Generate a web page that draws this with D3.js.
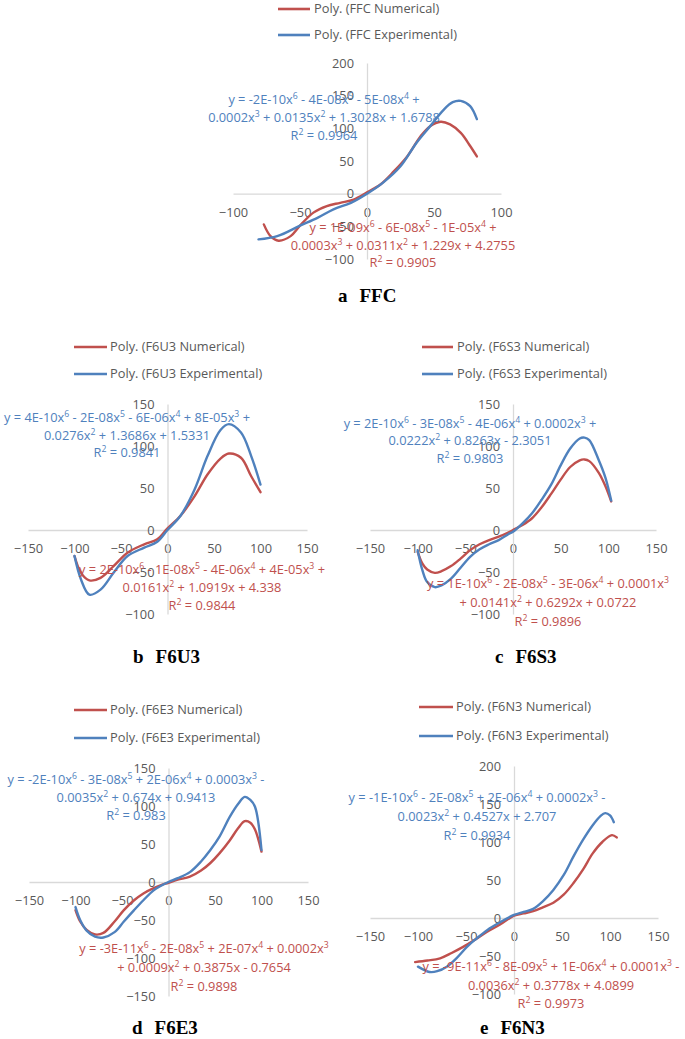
<!DOCTYPE html>
<html>
<head>
<meta charset="utf-8">
<script src="https://cdn.jsdelivr.net/npm/d3@7.9.0/dist/d3.min.js"></script>
<style>
  body { margin: 0; background: #fff; }
  svg { display: block; }
  .tick text { font-family: "Open Sans", sans-serif; font-size: 12.8px; fill: #595959; }
  .legend text { font-family: "Open Sans", sans-serif; font-size: 12.8px; fill: #595959; }
  .eq { font-family: "Open Sans", sans-serif; font-size: 12.8px; }
  .caption { font-family: "Liberation Serif", serif; font-weight: bold; font-size: 19px; fill: #000; }
</style>
</head>
<body>
<svg id="chart" width="685" height="1039"></svg>
<script>
// tick labels
const ticks100 = [-100, -50, 0, 50, 100];
const ticks150 = [-150, -100, -50, 0, 50, 100, 150];
const ticksY100to200 = [-100, -50, 0, 50, 100, 150, 200];
const ticksY100to150 = [-100, -50, 0, 50, 100, 150];
const ticksY150to150 = [-150, -100, -50, 0, 50, 100, 150];

// a  FFC
const ffcNumX = [-77, -72, -66, -57, -50, -40, -30, -20, -10, 0, 10, 20, 30, 40, 47, 55, 62, 70, 77, 82];
const ffcNumY = [-47, -65, -72, -65, -49, -29, -19, -14, -9, 2, 14, 34, 57, 88, 103, 110, 106, 93, 73, 57];
const ffcExpX = [-81, -67, -50, -37, -25, -12, 0, 12, 25, 37, 47, 57, 64, 70, 77, 82];
const ffcExpY = [-70, -65, -49, -37, -24, -14, 0, 17, 42, 78, 103, 128, 140, 142, 134, 114];

// b  F6U3
const f6u3X = [-100, -93, -84, -72, -58, -43, -25, -11, 0, 14, 29, 43, 57, 66, 79, 90, 100];
const f6u3NumY = [-31, -51, -60, -57, -43, -27, -17, -11, 2, 17, 40, 66, 85, 91, 86, 64, 45];
const f6u3ExpY = [-31, -59, -77, -71, -51, -31, -21, -14, 0, 17, 48, 88, 119, 126, 116, 88, 54];

// c  F6S3
const f6s3X = [-100, -95, -90, -82, -75, -65, -55, -45, -35, -25, -15, -5, 0, 10, 20, 30, 40, 50, 60, 70, 75, 80, 90, 97, 103];
const f6s3NumY = [-26, -40, -47, -51, -49, -43, -34, -24, -17, -12, -8, -3, 0, 6, 14, 27, 43, 60, 75, 83, 84, 82, 68, 52, 34];
const f6s3ExpY = [-24, -48, -62, -68, -66, -58, -45, -32, -23, -17, -12, -5, -2, 8, 20, 36, 54, 77, 97, 109, 110, 107, 83, 62, 35];

// d  F6E3
const f6e3X = [-100, -95, -88, -79, -70, -58, -48, -37, -27, -16, -8, 0, 10, 23, 35, 45, 55, 66, 75, 82, 88, 93, 100];
const f6e3NumY = [-37, -52, -63, -69, -67, -52, -37, -24, -15, -8, -4, -1, 3, 7, 15, 25, 38, 55, 71, 80, 78, 69, 40];
const f6e3ExpY = [-33, -50, -64, -72, -73, -66, -52, -37, -24, -11, -5, 0, 5, 13, 27, 42, 60, 86, 103, 112, 108, 99, 42];

// e  F6N3
const f6n3NumX = [-103, -90, -77, -65, -53, -40, -28, -15, 0, 10, 20, 30, 41, 52, 62, 72, 82, 92, 102, 107];
const f6n3NumY = [-58, -56, -53, -46, -38, -28, -18, -9, 3, 6, 9, 14, 20, 31, 46, 64, 85, 100, 109, 106];
const f6n3ExpX = [-100, -88, -80, -70, -60, -49, -40, -28, -15, 0, 10, 20, 30, 41, 52, 62, 72, 82, 90, 95, 100, 104];
const f6n3ExpY = [-64, -71, -70, -64, -53, -38, -28, -16, -6, 4, 8, 12, 22, 37, 57, 81, 103, 122, 134, 138, 135, 126];

// trendline equations
const ffcExpEq = ["y = -2E-10x^6 - 4E-08x^5 - 5E-08x^4 +", "0.0002x^3 + 0.0135x^2 + 1.3028x + 1.6788", "R^2 = 0.9964"];
const ffcNumEq = ["y = 1E-09x^6 - 6E-08x^5 - 1E-05x^4 +", "0.0003x^3 + 0.0311x^2 + 1.229x + 4.2755", "R^2 = 0.9905"];
const f6u3ExpEq = ["y = 4E-10x^6 - 2E-08x^5 - 6E-06x^4 + 8E-05x^3 +", "0.0276x^2 + 1.3686x + 1.5331", "R^2 = 0.9841"];
const f6u3NumEq = ["y = 2E-10x^6 - 1E-08x^5 - 4E-06x^4 + 4E-05x^3 +", "0.0161x^2 + 1.0919x + 4.338", "R^2 = 0.9844"];
const f6s3ExpEq = ["y = 2E-10x^6 - 3E-08x^5 - 4E-06x^4 + 0.0002x^3 +", "0.0222x^2 + 0.8263x - 2.3051", "R^2 = 0.9803"];
const f6s3NumEq = ["y = 1E-10x^6 - 2E-08x^5 - 3E-06x^4 + 0.0001x^3", "+ 0.0141x^2 + 0.6292x + 0.0722", "R^2 = 0.9896"];
const f6e3ExpEq = ["y = -2E-10x^6 - 3E-08x^5 + 2E-06x^4 + 0.0003x^3 -", "0.0035x^2 + 0.674x + 0.9413", "R^2 = 0.983"];
const f6e3NumEq = ["y = -3E-11x^6 - 2E-08x^5 + 2E-07x^4 + 0.0002x^3", "+ 0.0009x^2 + 0.3875x - 0.7654", "R^2 = 0.9898"];
const f6n3ExpEq = ["y = -1E-10x^6 - 2E-08x^5 + 2E-06x^4 + 0.0002x^3 -", "0.0023x^2 + 0.4527x + 2.707", "R^2 = 0.9934"];
const f6n3NumEq = ["y = -9E-11x^6 - 8E-09x^5 + 1E-06x^4 + 0.0001x^3 -", "0.0036x^2 + 0.3778x + 4.0899", "R^2 = 0.9973"];

const red = '#C0504D';
const blue = '#4F81BD';
const axisColor = '#D9D9D9';

const svg = d3.select('#chart');

// panel layout
const panels = [
  {
    name: 'FFC', letter: 'a',
    xDomain: [-100, 100], xRange: [233, 501], xTicks: ticks100,
    yDomain: [-100, 200], yRange: [259, 63], yTicks: ticksY100to200,
    num: { x: ffcNumX, y: ffcNumY, eq: ffcNumEq, cx: 403, ys: [227, 245, 262] },
    exp: { x: ffcExpX, y: ffcExpY, eq: ffcExpEq, cx: 324, ys: [99, 117, 135] },
    legend: { x0: 278, x1: 310, tx: 314, y: [9, 35] },
    caption: { x: 338, y: 295 }
  },
  {
    name: 'F6U3', letter: 'b',
    xDomain: [-150, 150], xRange: [28, 307], xTicks: ticks150,
    yDomain: [-100, 150], yRange: [614, 404], yTicks: ticksY100to150,
    num: { x: f6u3X, y: f6u3NumY, eq: f6u3NumEq, cx: 202, ys: [569, 587, 605] },
    exp: { x: f6u3X, y: f6u3ExpY, eq: f6u3ExpEq, cx: 127, ys: [417, 435, 452] },
    legend: { x0: 74, x1: 107, tx: 110, y: [347, 374] },
    caption: { x: 133, y: 656 }
  },
  {
    name: 'F6S3', letter: 'c',
    xDomain: [-150, 150], xRange: [370, 656], xTicks: ticks150,
    yDomain: [-100, 150], yRange: [614, 404], yTicks: ticksY100to150,
    num: { x: f6s3X, y: f6s3NumY, eq: f6s3NumEq, cx: 548, ys: [583, 602, 621] },
    exp: { x: f6s3X, y: f6s3ExpY, eq: f6s3ExpEq, cx: 470, ys: [423, 440, 458] },
    legend: { x0: 422, x1: 453, tx: 457, y: [347, 374] },
    caption: { x: 495, y: 656 }
  },
  {
    name: 'F6E3', letter: 'd',
    xDomain: [-150, 150], xRange: [29, 308], xTicks: ticks150,
    yDomain: [-150, 150], yRange: [996, 768], yTicks: ticksY150to150,
    num: { x: f6e3X, y: f6e3NumY, eq: f6e3NumEq, cx: 204, ys: [948, 967, 986] },
    exp: { x: f6e3X, y: f6e3ExpY, eq: f6e3ExpEq, cx: 136, ys: [779, 797, 815] },
    legend: { x0: 74, x1: 107, tx: 110, y: [710, 738] },
    caption: { x: 132, y: 1027 }
  },
  {
    name: 'F6N3', letter: 'e',
    xDomain: [-150, 150], xRange: [370, 658], xTicks: ticks150,
    yDomain: [-100, 200], yRange: [994, 766], yTicks: ticksY100to200,
    num: { x: f6n3NumX, y: f6n3NumY, eq: f6n3NumEq, cx: 551, ys: [966, 985, 1003] },
    exp: { x: f6n3ExpX, y: f6n3ExpY, eq: f6n3ExpEq, cx: 477, ys: [797, 816, 835] },
    legend: { x0: 419, x1: 453, tx: 456, y: [707, 736] },
    caption: { x: 480, y: 1027 }
  }
];

// writes "x^6" style strings as tspans with raised exponents
function richText(sel, str) {
  let raised = false;
  str.split(/(\^\d)/).filter(s => s.length).forEach(part => {
    if (part[0] === '^') {
      sel.append('tspan').attr('dy', -5).attr('font-size', '0.68em').text(part.slice(1));
      raised = true;
    } else {
      sel.append('tspan').attr('dy', raised ? 5 : null).text(part);
      raised = false;
    }
  });
}

function drawPanel(p) {
  const x = d3.scaleLinear().domain(p.xDomain).range(p.xRange);
  const y = d3.scaleLinear().domain(p.yDomain).range(p.yRange);
  const g = svg.append('g');

  // horizontal axis through y = 0
  const xAxis = g.append('g')
    .attr('transform', `translate(0,${y(0)})`)
    .call(d3.axisBottom(x).tickValues(p.xTicks).tickSize(0).tickPadding(14).tickFormat(d3.format('d')));
  xAxis.select('.domain').attr('stroke', axisColor).attr('stroke-width', 1.3);

  // vertical axis through x = 0
  const yAxis = g.append('g')
    .attr('transform', `translate(${x(0)},0)`)
    .call(d3.axisLeft(y).tickValues(p.yTicks).tickSize(0).tickPadding(13).tickFormat(d3.format('d')));
  yAxis.select('.domain').attr('stroke', axisColor).attr('stroke-width', 1.3);

  const line = d3.line()
    .x(d => x(d[0]))
    .y(d => y(d[1]))
    .curve(d3.curveCatmullRom.alpha(0.5));

  [[p.num, red], [p.exp, blue]].forEach(([s, color]) => {
    g.append('path')
      .datum(d3.zip(s.x, s.y))
      .attr('d', line)
      .attr('fill', 'none')
      .attr('stroke', color)
      .attr('stroke-width', 2.4)
      .attr('stroke-linecap', 'round');
  });

  // equation labels
  [[p.exp, blue], [p.num, red]].forEach(([s, color]) => {
    s.eq.forEach((txt, i) => {
      const t = g.append('text')
        .attr('class', 'eq')
        .attr('x', s.cx)
        .attr('y', s.ys[i])
        .attr('dy', '0.36em')
        .attr('text-anchor', 'middle')
        .attr('fill', color);
      richText(t, txt);
    });
  });

  // legend
  const legend = g.append('g').attr('class', 'legend');
  [['Numerical', red], ['Experimental', blue]].forEach(([label, color], i) => {
    legend.append('line')
      .attr('x1', p.legend.x0).attr('x2', p.legend.x1)
      .attr('y1', p.legend.y[i]).attr('y2', p.legend.y[i])
      .attr('stroke', color).attr('stroke-width', 2.6);
    legend.append('text')
      .attr('x', p.legend.tx)
      .attr('y', p.legend.y[i])
      .attr('dy', '0.35em')
      .text(`Poly. (${p.name} ${label})`);
  });

  // caption
  const cap = g.append('text')
    .attr('class', 'caption')
    .attr('x', p.caption.x)
    .attr('y', p.caption.y)
    .attr('dy', '0.35em');
  cap.append('tspan').text(p.letter);
  cap.append('tspan').attr('dx', 12).text(p.name);
}

panels.forEach(drawPanel);
</script>
</body>
</html>
